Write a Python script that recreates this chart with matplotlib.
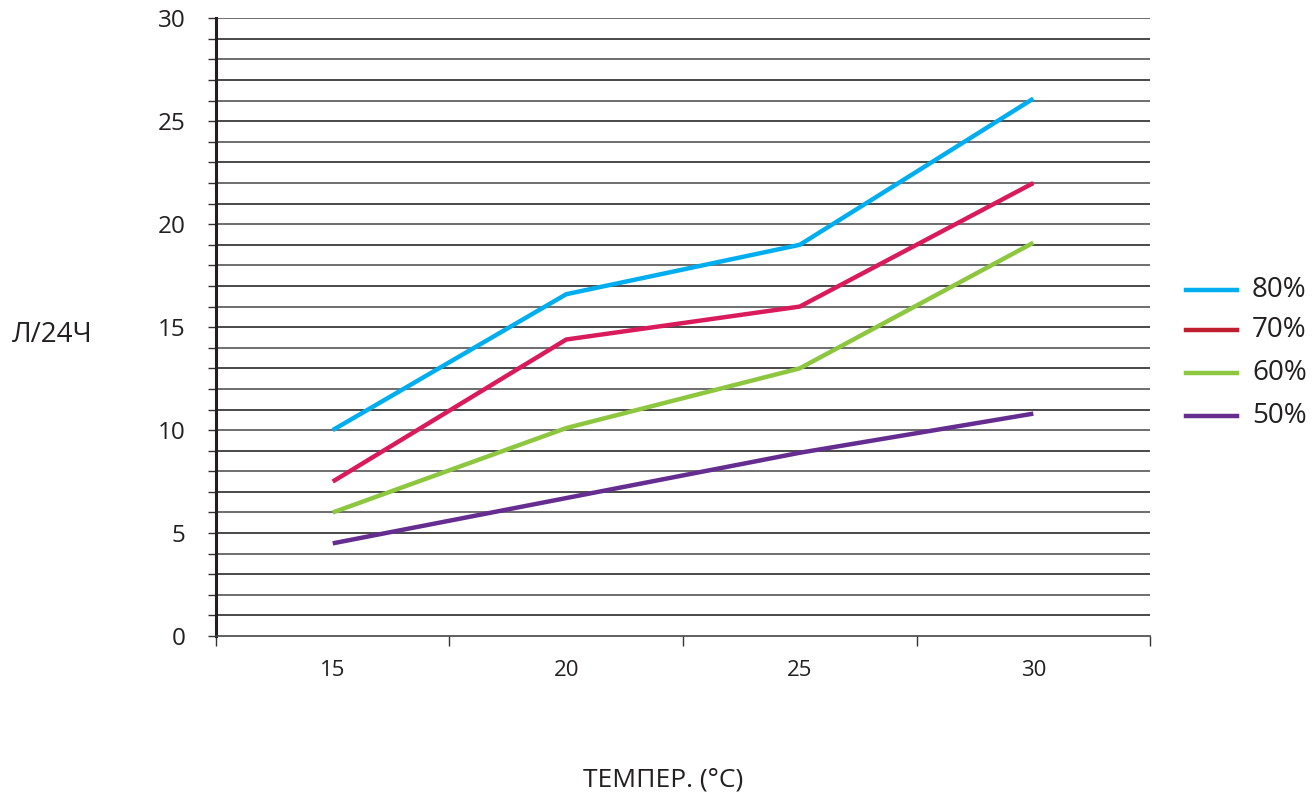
import numpy as np
import matplotlib
matplotlib.use("Agg")
import matplotlib.pyplot as plt

plt.rcParams['font.family'] = ['Open Sans', 'DejaVu Sans']

# temperature categories and daily output (л/24ч) per humidity level
temps = ['15', '20', '25', '30']
h80 = [10.0, 16.6, 19.0, 26.1]
h70 = [7.5, 14.4, 16.0, 22.0]
h60 = [6.0, 10.1, 13.0, 19.1]
h50 = [4.5, 6.7, 8.9, 10.8]
labels = ['80%', '70%', '60%', '50%']
colors = ['#00AEEF', '#D91A5B', '#8DC63F', '#662D91']
legend_colors = ['#00AEEF', '#BE1E2D', '#8DC63F', '#662D91']

fig = plt.figure(figsize=(13.12, 7.96), dpi=100)
ax = fig.add_axes([0.1646, 0.201, 0.712, 0.776])

x = np.arange(len(temps))
for ys, c in zip([h80, h70, h60, h50], colors):
    ax.plot(x, ys, color=c, lw=3.2, zorder=3, solid_capstyle='butt')

ax.set_xlim(-0.5, len(temps) - 0.5)
ax.set_ylim(0, 30)

# horizontal grid at every unit, ticks sticking out to the left
ax.set_yticks(np.arange(0, 31, 5))
ax.set_yticks(np.arange(0, 31, 1), minor=True)
for v in range(1, 31):
    ax.axhline(v, color='#2a2a2a' if v % 2 else '#555555', lw=1.2, zorder=1)
ax.tick_params(axis='y', which='both', direction='out', length=6, width=1,
               color='#333333', pad=16, labelsize=17.5, labelcolor='#231F20')

# x ticks at category boundaries, labels at centers
ax.set_xticks(np.arange(-0.5, len(temps), 1))
ax.set_xticklabels([])
ax.set_xticks(x, minor=True)
ax.set_xticklabels(temps, minor=True)
ax.tick_params(axis='x', which='major', direction='out', length=7, width=1, color='#333333')
ax.tick_params(axis='x', which='minor', length=0, pad=17, labelsize=16, labelcolor='#231F20')

ax.spines['top'].set_visible(False)
ax.spines['right'].set_visible(False)
ax.spines['left'].set_linewidth(2.2)
ax.spines['left'].set_color('#231F20')
ax.spines['bottom'].set_linewidth(1.2)
ax.spines['bottom'].set_color('#444444')

fig.text(12 / 1312, 1 - 335 / 796, 'Л/24Ч', fontsize=20, color='#231F20', va='center', ha='left')
fig.text(663 / 1312, 1 - 780 / 796, 'ТЕМПЕР. (°C)', fontsize=19, color='#231F20', va='center', ha='center')

# legend drawn manually to the right
ly = [290, 330, 373, 416]
for y, lab, c in zip(ly, labels, legend_colors):
    fig.add_artist(plt.Line2D([1186 / 1312, 1237 / 1312], [1 - y / 796] * 2, color=c, lw=3.2,
                              transform=fig.transFigure))
    fig.text(1252 / 1312, 1 - y / 796, lab, fontsize=20, color='#231F20', va='center', ha='left')

fig.savefig('out.png', dpi=100)
